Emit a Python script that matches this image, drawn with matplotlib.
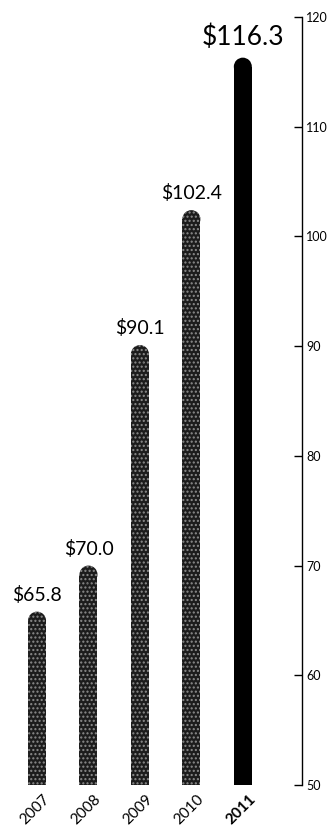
import matplotlib
matplotlib.use("Agg")
import matplotlib.pyplot as plt
from matplotlib.patches import Ellipse, Rectangle
import matplotlib.transforms as mtrans

years = ["2007", "2008", "2009", "2010", "2011"]
values = [65.8, 70.0, 90.1, 102.4, 116.3]
labels = ["$65.8", "$70.0", "$90.1", "$102.4", "$116.3"]
yticks = [50, 60, 70, 80, 90, 100, 110, 120]

plt.rcParams['font.family'] = ['Lato', 'DejaVu Sans']
plt.rcParams['hatch.linewidth'] = 1.0

fig = plt.figure(figsize=(3.32, 8.32), dpi=100)
ax = fig.add_axes([0.0, 0.0565, 0.9096, 0.923])
ax.set_xlim(-0.72, 5.15)
ax.set_ylim(50, 120)

bw = 0.35
# circle radius in data-y units derived from axis scales
p0 = ax.transData.transform((0, 50))
p1 = ax.transData.transform((bw, 51))
px_w = p1[0] - p0[0]
px_per_y = p1[1] - p0[1]
r_y = (px_w / 2) / px_per_y

for i, v in enumerate(values):
    last = i == len(values) - 1
    fc = 'black' if last else '#1c1c1c'
    hatch = None if last else '....'
    ec = 'black' if last else '#8c8c8c'
    rect = Rectangle((i - bw / 2, 50), bw, v - 50 - r_y, facecolor=fc,
                     edgecolor=ec, hatch=hatch, linewidth=0)
    ax.add_patch(rect)
    ell = Ellipse((i, v - r_y), bw, 2 * r_y, facecolor=fc, edgecolor=ec,
                  hatch=hatch, linewidth=0)
    ax.add_patch(ell)
    ax.text(i, v + 0.7, labels[i], ha='center', va='bottom',
            fontsize=19 if last else 14, color='black')

for s in ['left', 'top', 'bottom']:
    ax.spines[s].set_visible(False)
ax.spines['right'].set_linewidth(1.0)
ax.yaxis.tick_right()
ax.set_yticks(yticks)
ax.set_yticklabels([str(t) for t in yticks], fontsize=9)
ax.tick_params(axis='y', direction='in', length=6, width=1, pad=3)

ax.set_xticks(range(len(years)))
ax.set_xticklabels(years, rotation=45, ha='right', rotation_mode='anchor', fontsize=11)
ax.tick_params(axis='x', length=0, pad=5)
ax.get_xticklabels()[-1].set_fontweight('bold')
for lab in ax.get_xticklabels():
    lab.set_transform(lab.get_transform() + mtrans.ScaledTranslation(4/72, 0, fig.dpi_scale_trans))

fig.savefig("out.png", dpi=100)
